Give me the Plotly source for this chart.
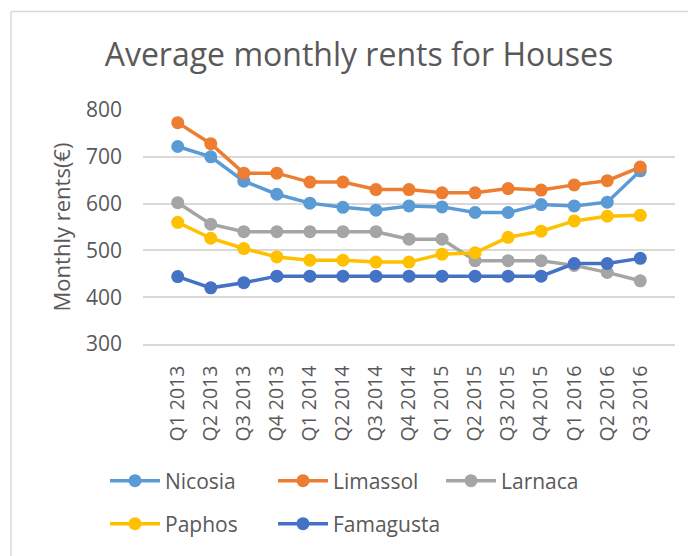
import plotly.graph_objects as go

quarters = ["Q1 2013", "Q2 2013", "Q3 2013", "Q4 2013",
            "Q1 2014", "Q2 2014", "Q3 2014", "Q4 2014",
            "Q1 2015", "Q2 2015", "Q3 2015", "Q4 2015",
            "Q1 2016", "Q2 2016", "Q3 2016"]

nicosia   = [722, 700, 648, 620, 601, 592, 586, 595, 593, 581, 581, 598, 595, 603, 670]
limassol  = [773, 728, 665, 665, 646, 646, 630, 630, 623, 623, 632, 629, 640, 649, 678]
larnaca   = [602, 556, 540, 540, 540, 540, 540, 524, 524, 478, 478, 478, 468, 453, 435]
paphos    = [560, 526, 504, 486, 479, 479, 475, 475, 492, 495, 528, 541, 563, 573, 575]
famagusta = [444, 420, 431, 445, 445, 445, 445, 445, 445, 445, 445, 445, 472, 472, 483]

series = [
    ("Nicosia", nicosia, "#5B9BD5", "legend"),
    ("Limassol", limassol, "#ED7D31", "legend"),
    ("Larnaca", larnaca, "#A5A5A5", "legend"),
    ("Paphos", paphos, "#FFC000", "legend2"),
    ("Famagusta", famagusta, "#4472C4", "legend2"),
]

FONT = "Open Sans"
TXT = "#595959"

fig = go.Figure()
for name, vals, col, lg in series:
    fig.add_trace(go.Scatter(
        x=quarters, y=vals, name=name, mode="lines+markers",
        line=dict(color=col, width=3.5),
        marker=dict(color=col, size=13),
        legend=lg,
    ))

# page body has an 8px margin; work in screenshot pixel coords and subtract it
OFF = 8
W, H = 696 - OFF, 556 - OFF
L = 143 - OFF
T = 110 - OFF
R = W - (675 - OFF)
B = H - (344 - OFF)
pw, ph = W - L - R, H - T - B

def px2x(px):
    return (px - OFF - L) / pw

def py2y(py):
    return (H - B - (py - OFF)) / ph

fig.update_layout(
    width=W, height=H,
    margin=dict(l=L, r=R, t=T, b=B, autoexpand=False),
    paper_bgcolor="white", plot_bgcolor="white",
    font=dict(family=FONT, color=TXT, size=20),
    title=dict(text="Average monthly rents for Houses",
               font=dict(family=FONT, size=32, color=TXT),
               x=(359 - OFF) / W, xanchor="center", xref="container",
               y=1 - (55 - OFF) / H, yanchor="middle", yref="container"),
    xaxis=dict(type="category", tickangle=-90, showgrid=False,
               showline=True, linecolor="#D9D9D9", linewidth=1.5,
               tickfont=dict(size=19.5, color=TXT), ticks="",
               ticklabelstandoff=12),
    yaxis=dict(range=[300, 800], dtick=100, tick0=300,
               showgrid=True, gridcolor="#D9D9D9", gridwidth=1.5,
               zeroline=False, showline=False, ticks="",
               tickfont=dict(size=21, color=TXT),
               ticklabelstandoff=20,
               title=dict(text="Monthly rents(€)", font=dict(size=22, color=TXT), standoff=9)),
    legend=dict(orientation="h", x=px2x(105), xanchor="left",
                y=py2y(481), yanchor="middle", entrywidth=103,
                entrywidthmode="pixels", itemwidth=50,
                font=dict(size=21, color=TXT), bgcolor="rgba(0,0,0,0)"),
    legend2=dict(orientation="h", x=px2x(105), xanchor="left",
                 y=py2y(524), yanchor="middle", entrywidth=103,
                 entrywidthmode="pixels", itemwidth=50,
                 font=dict(size=21, color=TXT), bgcolor="rgba(0,0,0,0)"),
    showlegend=True,
    shapes=[
        dict(type="line", xref="paper", yref="paper",
             x0=px2x(11), x1=px2x(700), y0=py2y(11.5), y1=py2y(11.5),
             line=dict(color="#D9D9D9", width=1.5)),
        dict(type="line", xref="paper", yref="paper",
             x0=px2x(11), x1=px2x(11), y0=py2y(11.5), y1=py2y(560),
             line=dict(color="#D9D9D9", width=1.5)),
    ],
)

fig.write_html("out.html")
